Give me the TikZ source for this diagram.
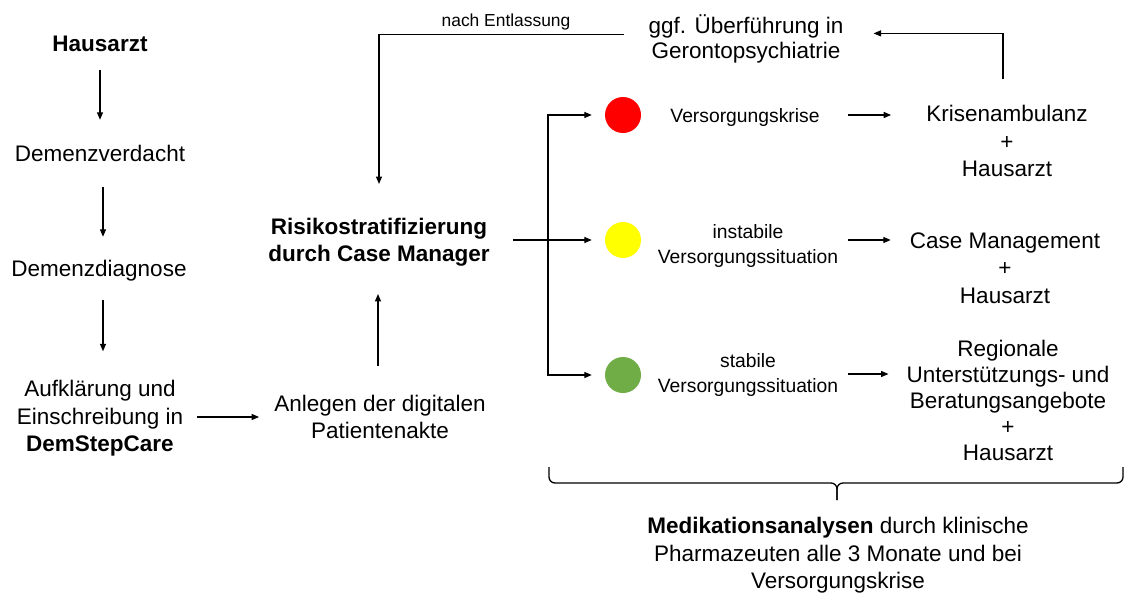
\documentclass[tikz,border=0pt]{standalone}
\usepackage{fontspec}
\setmainfont{Liberation Sans}
\usetikzlibrary{arrows.meta}
\newcommand\bigfont{\fontsize{22.5}{27.5}\selectfont}
\newcommand\smallfont{\fontsize{19.3}{25}\selectfont}
\newcommand\notefont{\fontsize{17.4}{20}\selectfont}
\definecolor{ampelrot}{HTML}{FF0000}
\definecolor{ampelgelb}{HTML}{FFFF00}
\definecolor{ampelgruen}{HTML}{70AD47}
\begin{document}
\begin{tikzpicture}[x=1pt,y=-1pt,
  lbl/.style={inner sep=0pt, align=center, font=\bigfont,
    execute at begin node=\strut, execute at end node=\strut},
  sml/.style={lbl, font=\smallfont},
  arr/.style={line width=1.3pt, -{Triangle[length=7.5pt,width=6pt]}},
  ln/.style={line width=1.3pt},
  dot/.style={circle, minimum size=36pt, inner sep=0pt}]
\useasboundingbox (0,0) rectangle (1126,594);
\fill[white] (0,0) rectangle (1126,594);

% left column
\node[lbl] (haus) at (100,46.5) {\textbf{Hausarzt}};
\node[lbl] (verd) at (100,155.5) {Demenzverdacht};
\node[lbl] (diag) at (99,270.5) {Demenzdiagnose};
\node[lbl] (aufk) at (100,420) {Aufklärung und\\Einschreibung in\\\textbf{DemStepCare}};

% middle column
\node[lbl] (anl) at (380,421) {Anlegen der digitalen\\Patientenakte};
\node[lbl] (risk) at (379,244) {\textbf{Risikostratifizierung}\\\textbf{durch Case Manager}};
\node[inner sep=0pt, font=\notefont] (entl) at (506,22) {nach Entlassung};
\node[lbl, font={\fontsize{22.5}{25.5}\selectfont}] (ggf) at (746,40.4) {ggf. Überführung in\\Gerontopsychiatrie};

% traffic light
\node[dot, fill=ampelrot] (red) at (623,115) {};
\node[dot, fill=ampelgelb] (yel) at (623,240) {};
\node[dot, fill=ampelgruen] (grn) at (623,375) {};
\node[sml] (kl) at (745,117) {Versorgungskrise};
\node[sml] (inst) at (748,247.5) {instabile\\Versorgungssituation};
\node[sml] (stab) at (748,377) {stabile\\Versorgungssituation};

% care paths
\node[lbl] (kris) at (1007,145) {Krisenambulanz\\+\\Hausarzt};
\node[lbl] (cm) at (1005,272) {Case Management\\+\\Hausarzt};
\node[lbl, font={\fontsize{22.5}{26}\selectfont}] (reg) at (1008,404.6)
  {Regionale\\Unterstützungs- und\\Beratungsangebote\\+\\Hausarzt};

% medication review
\node[lbl] (med) at (838,557) {\textbf{Medikationsanalysen} durch klinische\\Pharmazeuten alle 3 Monate und bei\\Versorgungskrise};

% connectors, left column
\draw[arr, shorten <=10pt, shorten >=21.75pt] (haus.south) -- (haus.south |- verd.north);
\draw[arr, shorten <=17.75pt, shorten >=19.75pt] ([xshift=3pt]verd.south) -- ([xshift=3pt]verd.south |- diag.north);
\draw[arr, shorten <=15.75pt, shorten >=28.75pt] ([xshift=4pt]diag.south) -- ([xshift=4pt]diag.south |- aufk.north);
\draw[arr, shorten <=14pt, shorten >=15pt] ([yshift=3pt]aufk.east) -- ([yshift=3pt]aufk.east -| anl.west);
\draw[arr, shorten <=28.75pt, shorten >=23.75pt] ([xshift=-2pt]anl.north) -- ([xshift=-2pt]anl.north |- risk.south);

% feedback loop
\draw[arr, shorten <=24pt, shorten >=33.75pt] ([yshift=6pt]ggf.west) -| (risk.north);
\draw[arr, shorten <=25.75pt, shorten >=30pt] ([xshift=-4pt]kris.north) |- ([yshift=7pt]ggf.east);

% branching to the traffic light
\coordinate (br) at (548,240);
\draw[ln, shorten <=23pt] ([yshift=4pt]risk.east) -- (br);
\draw[arr, shorten >=13pt] (br) -- (yel);
\draw[arr, shorten >=13pt] (br) |- (red);
\draw[arr, shorten >=13pt] (br) |- (grn);

% from situation to care path
\draw[arr, shorten <=28pt, shorten >=35pt] ([yshift=2pt]kl.east) -- ([yshift=2pt]kl.east -| kris.west);
\draw[arr, shorten <=10pt, shorten >=19pt] ([yshift=7.5pt]inst.east) -- ([yshift=7.5pt]inst.east -| cm.west);
\draw[arr, shorten <=10pt, shorten >=18pt] ([yshift=3pt]stab.east) -- ([yshift=3pt]stab.east -| reg.west);

% brace over the care paths
\draw[line width=1.3pt, rounded corners=6pt] (549,467) -- (549,483) -- (837,483) -- (837,500);
\draw[line width=1.3pt, rounded corners=6pt] (1123,467) -- (1123,483) -- (837,483) -- (837,500);
\end{tikzpicture}
\end{document}
